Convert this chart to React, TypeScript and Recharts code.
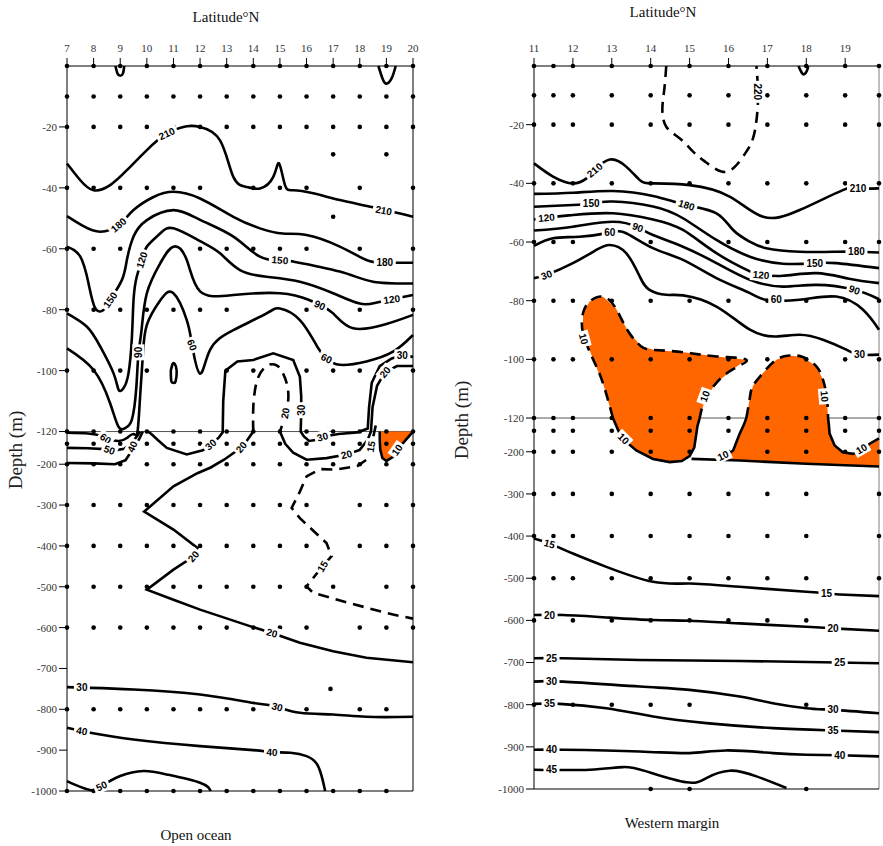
import { ScatterChart, Scatter, XAxis, YAxis, ReferenceLine } from "recharts";

type Pt = [number, number];
type Lbl = [number, number, string, number];
type Contour = { pts: Pt[]; dash?: boolean; curve?: string };

// depth ticks shared by both panels (broken axis at -120 m)
const depthTicks = [-20, -40, -60, -80, -100, -120, -200, -300, -400, -500, -600, -700, -800, -900, -1000];

// ---------- Open ocean ----------
const leftLatTicks = [7, 8, 9, 10, 11, 12, 13, 14, 15, 16, 17, 18, 19, 20];
const allL = leftLatTicks;
const leftDotRows: [number, number[]][] = [
  [0, allL], [-10, allL], [-20, allL], [-29, [17, 19]],
  [-40, [7, 8, 9, 10, 11, 12, 14, 15, 16, 18, 20]], [-49.5, [17]],
  [-60, [7, 8, 9, 12, 13, 14, 15, 16, 18, 20]],
  [-80, [7, 8, 9, 10, 11, 12, 13, 16, 18, 20]],
  [-100, [7, 8, 9, 10, 13, 14, 16, 17, 18, 20]],
  [-120, allL], [-150, allL], [-200, allL],
  [-300, [7, 8, 9, 10, 11, 12, 13, 14, 15, 16, 18, 19, 20]],
  [-400, [7, 8, 9, 10, 11, 12, 13, 14, 15, 16, 18, 19, 20]],
  [-500, [7, 8, 9, 10, 11, 12, 13, 14, 15, 16, 17, 19, 20]],
  [-600, [7, 8, 9, 10, 11, 12, 13, 14, 15, 16, 18, 19, 20]],
  [-750, [16.9]],
  [-800, [7, 8, 9, 10, 11, 12, 13, 14, 15, 16, 18, 19]],
  [-1000, [7, 8, 9, 10, 11, 12, 13, 14, 15, 16, 17, 18, 19]],
];

const leftFills: Pt[][] = [
  [[18.75, -120], [20, -120], [19.6, -150], [19.3, -180], [19.0, -192], [18.85, -185], [18.77, -165], [18.75, -140]],
];

const leftLines: Contour[] = [
  { pts: [[8.82, 0], [8.9, -2.5], [9.0, -3.2], [9.1, -2.5], [9.15, 0]] },
  { pts: [[18.7, 0], [18.85, -4], [19.0, -5.8], [19.2, -4], [19.35, 0]] },
  { pts: [[7, -32], [7.5, -37.5], [8, -40.8], [8.62, -39.1], [9.25, -34.2], [10, -27.6], [10.75, -22.2], [11.5, -19.8], [12, -20], [12.75, -24.4], [13.25, -36.4], [13.75, -39.7], [14.25, -40.2], [14.75, -36.4], [14.97, -32], [15.19, -39.1], [15.5, -40.8], [16.25, -41.8], [17.25, -44], [18.5, -46.4], [20, -49.5]] },
  { pts: [[7, -49.3], [7.6, -52.5], [8.25, -54.4], [8.94, -52.2], [9.5, -47.3], [10.25, -43], [11, -41.3], [12, -43.5], [13.25, -49.5], [14.25, -53.3], [15.1, -55], [16, -55.5], [17.25, -59.3], [18.25, -63.7], [18.94, -64.6], [20, -64.6]] },
  { pts: [[7, -59.3], [7.5, -62.6], [7.81, -71.4], [8.06, -79.5], [8.37, -80.1], [8.62, -76.8], [9.06, -70.3], [9.25, -63.7], [9.5, -56], [10, -50.6], [11, -47.3], [12, -50.5], [13.25, -56], [14.25, -62.6], [15, -63.7], [15.5, -64.2], [17.25, -67.5], [18.5, -70.8], [20, -71.4]] },
  { pts: [[7, -81.2], [7.75, -85.6], [8.25, -92.1], [8.75, -100.9], [8.94, -106.3], [9.12, -105.8], [9.31, -100.9], [9.44, -88.8], [9.5, -76.8], [9.62, -69.2], [9.81, -63.7], [10, -59.3], [10.5, -55], [11, -53.3], [12, -57.5], [12.75, -61.5], [13.5, -67], [14.5, -69.2], [15.75, -70.8], [17, -74.6], [18, -78], [18.6, -77.7], [19.2, -76.6], [20, -75.2]] },
  { pts: [[7, -92.7], [8, -99.8], [8.62, -110.7], [8.94, -118.5], [9.2, -118.8], [9.44, -116], [9.6, -106], [9.68, -95], [9.8, -86.7], [10, -74.6], [10.5, -64.8], [11, -59.3], [11.5, -63.7], [12, -74], [13.25, -75.2], [15, -74.6], [16.1, -76.8], [16.5, -78.5], [17, -81.2], [17.75, -86.1], [19, -84.7], [20, -81.7]] },
  { pts: [[7, -123], [7.8, -125], [8.3, -131], [8.6, -139], [8.95, -143], [9.25, -136], [9.5, -126], [9.65, -120], [9.75, -108], [9.85, -95], [10.0, -85], [10.5, -77], [11, -74.6], [11.5, -83.4], [11.7, -91.6], [12, -101], [12.375, -93.2], [13.25, -86.7], [14.5, -81.2], [15, -79.6], [15.75, -83.4], [16.4, -92.1], [16.75, -96], [17.25, -98.1], [18.25, -97], [19.25, -93.8], [20, -88.3]] },
  { pts: [[10.9, -100], [10.97, -97.8], [11.05, -97.8], [11.12, -100], [11.08, -103.5], [11.0, -104], [10.92, -103.5], [10.9, -100]] },
  { pts: [[7, -160], [7.8, -161], [8.4, -163], [8.8, -166], [9.15, -162], [9.45, -147], [9.65, -130], [9.75, -120]], curve: "linear" },
  { pts: [[7, -197], [8, -198], [8.8, -200], [9.2, -190], [9.45, -165], [9.7, -140], [9.85, -120]], curve: "linear" },
  { pts: [[10.05, -120], [10.2, -128], [10.4, -140], [10.75, -160], [11.5, -176], [12.1, -166], [12.4, -152], [12.7, -135], [12.85, -122], [12.87, -110], [12.95, -100], [13.4, -97], [14, -96.5], [14.75, -94.3], [15.5, -96.5], [15.75, -102], [15.8, -108.5], [15.8, -114], [15.78, -120], [15.9, -132], [16.1, -143], [16.4, -140], [16.6, -133], [17.2, -126], [17.9, -122], [18.3, -119], [18.35, -112], [18.45, -104], [18.75, -98.5], [19.2, -96], [19.6, -95], [20, -95.5]], curve: "linear" },
  { pts: [[14.0, -120], [14.0, -112], [14.15, -103], [14.5, -98.5], [14.8, -98], [15.06, -100], [15.3, -106], [15.25, -113], [15.0, -120]], dash: true },
  { pts: [[15.0, -120], [15.2, -150], [15.5, -172], [16, -189], [16.75, -185], [17.5, -176], [18, -165], [18.3, -140], [18.42, -120], [18.48, -112], [18.65, -105], [18.95, -100.5], [19.4, -98.5], [20, -98.5]], curve: "linear" },
  { pts: [[14.0, -120], [13.6, -157], [12.9, -189], [12.4, -208], [11.9, -222], [11.0, -254], [9.9, -316], [11.0, -360], [11.9, -405], [11.75, -426], [11.0, -458], [10.0, -507], [11.0, -532], [12, -556], [13.9, -597], [14.7, -613], [15.75, -637], [17, -658], [18.25, -674], [20, -685]], curve: "linear" },
  { pts: [[18.6, -118], [18.45, -150], [18.25, -189], [17.9, -205], [17.1, -213], [16.5, -212], [16, -230], [15.75, -267], [15.44, -307], [15.75, -332], [16.75, -393], [16.94, -425], [16.6, -450], [16, -499], [16.25, -515], [17.6, -540], [19.25, -568], [20, -578]], dash: true, curve: "linear" },
  { pts: [[18.75, -120], [18.75, -140], [18.77, -165], [18.85, -185], [19.0, -192], [19.3, -180], [19.6, -150], [20, -120]], curve: "linear" },
  { pts: [[7, -745.8], [7.875, -747.5], [9.5, -751.5], [12, -763.8], [14, -784.2], [14.9, -794], [15.75, -808.6], [17, -812.7], [18.25, -818.4], [20, -818.4]] },
  { pts: [[7, -845.3], [7.875, -857.5], [9.5, -873.8], [12, -890.1], [14, -899.9], [14.7, -904.8], [15.4, -906.4], [16, -914.6], [16.4, -935], [16.6, -971.6], [16.7, -1000]] },
  { pts: [[7, -975.7], [7.5, -990], [7.94, -998], [8.3, -988], [9, -963.4], [9.875, -951.2], [10.75, -959.4], [12, -979.7], [12.4, -1000]] },
];

const leftLabels: Lbl[] = [
  [10.75, -22.2, "210", -25], [18.9, -47.4, "210", 10], [8.94, -52.2, "180", -40], [18.94, -64.6, "180", 0],
  [8.62, -76.8, "150", -55], [15, -63.7, "150", 5], [9.81, -63.7, "120", -72], [19.2, -76.6, "120", -8],
  [9.68, -94, "90", -90], [16.5, -78.5, "90", 25], [11.7, -91.6, "60", 70], [16.75, -96, "60", 25],
  [15.8, -113, "30", -90], [15.2, -114, "20", -80], [18.95, -100.5, "20", -50], [19.6, -95, "30", 0],
  [8.45, -137, "60", 35], [8.6, -165, "50", 20], [9.45, -157, "40", -65], [12.4, -152, "30", -40],
  [13.55, -158, "20", -50], [16.6, -133, "30", -15], [17.5, -176, "20", -15], [18.42, -157, "15", -80],
  [19.4, -165, "10", -55], [11.75, -426, "20", -50], [16.6, -450, "15", -60], [14.7, -613, "20", 15],
  [7.56, -746, "30", 0], [14.9, -794, "30", 15], [7.56, -853, "40", 10], [14.7, -905, "40", 3], [8.3, -988, "50", -25],
];

// ---------- Western margin ----------
const rightLatTicks = [11, 12, 13, 14, 15, 16, 17, 18, 19];
const allR = [11, 11.5, 12, 13, 14, 15, 16, 17, 18, 19, 19.87];
const rightDotRows: [number, number[]][] = [
  [0, allR], [-10, allR], [-20, allR], [-40, allR],
  [-60, [11, 11.5, 12, 14, 16, 17, 18, 19, 19.87]],
  [-80, allR], [-100, allR], [-120, allR], [-150, allR], [-200, allR],
  [-300, [11, 11.5, 12, 13, 14, 15, 16, 17, 18, 19.87]],
  [-400, [11, 11.5, 12, 13, 14, 15, 16, 17, 18, 19.87]],
  [-500, [11, 11.5, 12, 13, 14, 15, 16, 17, 18, 19.87]],
  [-600, [11, 12, 13, 14, 15, 16, 17, 18]],
  [-800, [11, 12, 13, 14, 15, 18]],
  [-1000, [14, 15, 18]],
];

const rightFills: Pt[][] = [
  [[12.77, -78.6], [13.1, -82.5], [13.4, -90], [13.75, -95.5], [14.1, -96.8], [14.85, -97.6], [15.7, -99], [16.46, -100.1], [16.1, -103.5], [15.69, -108], [15.4, -113.5], [15.26, -120], [15.2, -140], [15.17, -160], [15.12, -190], [15.0, -210], [14.8, -222], [14.49, -224.5], [14.06, -217], [13.63, -197], [13.35, -175], [13.2, -157], [13.03, -120], [12.77, -108], [12.52, -100], [12.26, -91], [12.26, -84.2], [12.43, -80.3]],
  [[17.57, -98.7], [17.91, -99.2], [18.26, -102.4], [18.43, -106.9], [18.53, -113], [18.56, -120], [18.58, -135], [18.6, -157], [18.73, -185], [18.94, -201], [19.2, -205], [19.45, -195], [19.63, -181], [19.87, -168], [19.87, -236], [19, -232], [18, -228.5], [17, -224], [16.29, -220.6], [15.75, -218], [15.95, -208], [16.12, -197], [16.29, -157], [16.4, -135], [16.46, -120], [16.55, -113], [16.63, -109], [16.89, -104.6], [17.23, -100.1]],
];

const rightLines: Contour[] = [
  { pts: [[14.4, 0], [14.35, -8], [14.3, -14.5], [14.4, -20.7], [14.75, -24.7], [15.09, -29.2], [15.4, -32.6], [15.82, -36], [16.16, -34.4], [16.46, -29.2], [16.63, -24.7], [16.72, -18.5], [16.76, -10], [16.72, 0]], dash: true },
  { pts: [[17.8, 0], [17.88, -2.2], [17.95, -2.8], [18.02, -1.5], [18.05, 0]] },
  { pts: [[11, -33.2], [11.49, -37.7], [12, -40], [12.35, -38.3], [12.56, -35.5], [12.95, -31.9], [13.37, -34.3], [13.72, -38.9], [14.06, -40], [15, -40.6], [16.03, -44.5], [16.89, -51.4], [17.83, -49.1], [18.94, -42.3], [19.33, -41.7], [19.87, -41.7]] },
  { pts: [[11, -43.6], [12, -43.2], [13.03, -42.6], [14.06, -44.3], [14.92, -47.4], [15.69, -50.2], [16.12, -55.9], [16.55, -59.9], [16.97, -62.1], [17.83, -63.3], [18.77, -63.3], [19.29, -63.3], [19.87, -63.6]] },
  { pts: [[11, -48], [12, -47.4], [12.47, -46.8], [13.03, -46.2], [14.06, -47.9], [14.83, -51.9], [15.69, -59.3], [16.55, -65], [17.4, -67.4], [18.22, -67.2], [18.77, -67.2], [19.87, -68.9]] },
  { pts: [[11, -52.3], [11.32, -51.7], [12, -50.8], [13.03, -50.2], [14.06, -52.3], [14.83, -55.9], [15.69, -63.8], [16.55, -70], [16.84, -71.2], [17.4, -71.5], [18.26, -70.6], [19.1, -72.5], [19.87, -74]] },
  { pts: [[11, -56.1], [12, -54.8], [13.03, -53.1], [13.67, -55], [14.06, -57.6], [14.83, -61.6], [15.69, -67.2], [16.55, -72.9], [17.4, -75.2], [18.26, -74.6], [19.24, -76.3], [19.87, -79.5]] },
  { pts: [[11, -61.3], [11.49, -58.7], [12.17, -58.2], [12.95, -56.8], [13.37, -57], [14.06, -62.1], [14.83, -66.1], [15.69, -72.3], [16.55, -77.4], [16.97, -79.7], [17.83, -79.7], [18.77, -78.6], [19.46, -83.1], [19.87, -89.9]] },
  { pts: [[11, -72.3], [11.32, -71.2], [12, -67.2], [12.6, -62.7], [12.95, -61], [13.37, -63.8], [13.72, -71.8], [13.97, -76.3], [14.4, -78], [14.83, -78.2], [15.69, -82], [16.55, -89.9], [17.23, -92.2], [17.83, -91.6], [18.43, -93.3], [19.03, -96.7], [19.37, -98.4], [19.87, -98.4]] },
  // orange patch outlines (10)
  { pts: [[13.03, -120], [12.77, -108], [12.52, -100], [12.26, -91], [12.26, -84.2], [12.43, -80.3], [12.77, -78.6], [13.1, -82.5], [13.4, -90], [13.75, -95.5], [14.1, -96.8], [14.85, -97.6], [15.7, -99], [16.46, -100.1], [16.1, -103.5], [15.69, -108], [15.4, -113.5], [15.26, -120]], dash: true },
  { pts: [[13.03, -120], [13.2, -157], [13.35, -175], [13.63, -197], [14.06, -217], [14.49, -224.5], [14.8, -222], [15.0, -210], [15.12, -190], [15.17, -160], [15.2, -140], [15.26, -120]], curve: "linear" },
  { pts: [[16.46, -120], [16.55, -113], [16.63, -109], [16.89, -104.6], [17.23, -100.1], [17.57, -98.7], [17.91, -99.2], [18.26, -102.4], [18.43, -106.9], [18.53, -113], [18.56, -120]], dash: true },
  { pts: [[16.46, -120], [16.4, -135], [16.29, -157], [16.12, -197], [15.95, -208], [15.75, -216]], curve: "linear" },
  { pts: [[18.56, -120], [18.58, -135], [18.6, -157], [18.73, -185], [18.94, -201], [19.2, -205], [19.45, -195], [19.63, -181], [19.87, -168]], curve: "linear" },
  { pts: [[15.05, -217], [16.29, -220.6], [17, -224], [18, -228.5], [19, -232], [19.87, -235]], curve: "linear" },
  // deep water
  { pts: [[11, -406], [11.4, -418], [12, -441.5], [12.86, -473], [14.06, -508.6], [15, -512.5], [16.29, -520.4], [18, -532.2], [18.52, -536], [18.86, -538.6], [19.87, -542.5]] },
  { pts: [[11, -587.4], [11.75, -587.4], [12.86, -593], [14.06, -599.2], [15, -600.8], [16.29, -607.1], [18, -615], [18.69, -619], [19.87, -624.5]] },
  { pts: [[11, -690], [11.75, -690], [13.72, -693.9], [16.29, -696.3], [18.43, -699.4], [19.87, -701.8]] },
  { pts: [[11, -745.2], [11.75, -745.2], [13.72, -757], [15, -764.9], [16.29, -780.7], [17.14, -796.5], [18, -808.3], [18.69, -812.3], [19.87, -820.2]] },
  { pts: [[11, -798], [11.66, -798], [12.86, -808.3], [14.06, -828], [15.43, -843.8], [17.14, -855.7], [18.69, -861.2], [19.87, -865.1]] },
  { pts: [[11, -906.9], [11.75, -906.9], [13.72, -910.9], [15, -914.8], [15.94, -908.5], [17.14, -914.8], [18, -918.8], [18.86, -920], [19.87, -922.7]] },
  { pts: [[11, -954.3], [12.43, -954.3], [13.29, -948], [13.89, -958.2], [14.92, -984.2], [15.43, -974], [16.03, -956.6], [16.72, -970], [17.49, -997.6]] },
];

const rightLabels: Lbl[] = [
  [16.76, -8.8, "220", 90], [12.56, -35.5, "210", -40], [19.33, -41.7, "210", 0], [14.92, -47.4, "180", 18],
  [19.29, -63.3, "180", 0], [12.47, -46.8, "150", 0], [18.22, -67.2, "150", 0], [11.32, -51.7, "120", -5],
  [16.84, -71.2, "120", 5], [13.67, -55, "90", 20], [19.24, -76.3, "90", 20], [12.95, -56.8, "60", 0],
  [17.23, -79.7, "60", 0], [11.32, -71.2, "30", -20], [19.37, -98.4, "30", 0],
  [12.28, -93, "10", 75], [15.39, -112.6, "10", -70], [18.47, -112.6, "10", 85], [13.3, -169, "10", 45],
  [15.86, -209, "10", -25], [19.42, -193, "10", -30],
  [11.4, -418, "15", 15], [18.52, -536, "15", 0], [11.4, -587.4, "20", 0], [18.69, -619, "20", 0],
  [11.45, -690, "25", 0], [18.86, -700, "25", 0], [11.45, -745, "30", 0], [18.69, -812, "30", 0],
  [11.4, -798, "35", 0], [18.69, -861, "35", 0], [11.45, -907, "40", 0], [18.86, -920, "40", 0], [11.45, -954, "45", 0],
];

const tickStyle = { fill: "#333", fontSize: 11, fontFamily: "Liberation Serif, serif" };

const NoShape = () => <g />;
const DotShape = (p: any) => <circle cx={p.cx} cy={p.cy} r={2.3} fill="#000" />;
const LabelShape = (p: any) => {
  const { cx, cy, payload } = p;
  const w = payload.t.length * 6 + 4;
  return (
    <g transform={`translate(${cx},${cy}) rotate(${payload.a})`}>
      <rect x={-w / 2} y={-6} width={w} height={12} fill="#fff" />
      <text x={0} y={0} dy="0.36em" textAnchor="middle" fontSize={10} fontWeight="bold"
        fontFamily="Liberation Sans, Arial, sans-serif" fill="#000">{payload.t}</text>
    </g>
  );
};

function Panel(props: any) {
  const { width, height, margin, xDomain, xTicks, k, fills, lines, dotRows, labels, edge } = props;
  const ty = (d: number) => (d >= -120 ? d : -120 + (d + 120) * k);
  const inv = (t: number) => (t >= -120 ? t : -120 + (t + 120) / k);
  const toXY = (pts: Pt[]) => pts.map(([x, d]) => ({ x, y: ty(d) }));
  const dots = (dotRows as [number, number[]][]).flatMap(([d, lats]) => lats.map((x) => ({ x, y: ty(d) })));
  const lbls = (labels as Lbl[]).map(([x, d, t, a]) => ({ x, y: ty(d), t, a }));
  return (
    <ScatterChart width={width} height={height} margin={margin}>
      <XAxis type="number" dataKey="x" orientation="top" domain={xDomain} ticks={xTicks} interval={0}
        height={30} tickSize={8} tickMargin={6} stroke="#000" tick={tickStyle} />
      <YAxis type="number" dataKey="y" domain={[ty(-1000), 0]} ticks={depthTicks.map(ty)} interval={0}
        width={60} tickSize={8} tickMargin={2} stroke="#000" tick={tickStyle}
        tickFormatter={(v: number) => String(Math.round(inv(v)))} />
      <ReferenceLine x={xDomain[1]} stroke={edge} />
      <ReferenceLine y={ty(-1000)} stroke="#000" />
      {(fills as Pt[][]).map((f, i) => (
        <Scatter key={"f" + i} data={toXY(f)} shape={NoShape} isAnimationActive={false}
          line={{ fill: "#ff6600", stroke: "none" }} lineJointType="linearClosed" />
      ))}
      <ReferenceLine y={ty(-120)} stroke="#555" />
      {(lines as Contour[]).map((c, i) => (
        <Scatter key={"c" + i} data={toXY(c.pts)} shape={NoShape} isAnimationActive={false}
          line={{ stroke: "#000", strokeWidth: 2.6, fill: "none", strokeDasharray: c.dash ? "11 7" : undefined }}
          lineJointType={(c.curve || "natural") as any} />
      ))}
      <Scatter data={dots} shape={DotShape} isAnimationActive={false} />
      <Scatter data={lbls} shape={LabelShape} isAnimationActive={false} />
    </ScatterChart>
  );
}

const txt = (left: number, top: number, w: number, s: string, size = 15) => (
  <div style={{ position: "absolute", left, top, width: w, textAlign: "center", fontSize: size, fontFamily: "Liberation Serif, serif", color: "#111", lineHeight: "18px" }}>{s}</div>
);

const vtxt = (cx: number, cy: number, s: string) => (
  <div style={{ position: "absolute", left: cx - 50, top: cy - 11, width: 100, height: 22, textAlign: "center", fontSize: 19, lineHeight: "22px", fontFamily: "Liberation Serif, serif", color: "#222", transform: "rotate(-90deg)" }}>{s}</div>
);

export default function App() {
  return (
    <div style={{ position: "absolute", left: 0, top: 0, width: 883, height: 846, background: "#fff", overflow: "hidden" }}>
      <div style={{ position: "absolute", left: 0, top: 0 }}>
        <Panel width={440} height={846} margin={{ top: 36, right: 27, bottom: 55, left: 7 }}
          xDomain={[7, 20]} xTicks={leftLatTicks} k={0.1341} fills={leftFills} lines={leftLines}
          dotRows={leftDotRows} labels={leftLabels} edge="#000" />
      </div>
      <div style={{ position: "absolute", left: 440, top: 0 }}>
        <Panel width={443} height={846} margin={{ top: 36, right: 4, bottom: 57, left: 34 }}
          xDomain={[11, 19.87]} xTicks={rightLatTicks} k={0.1437} fills={rightFills} lines={rightLines}
          dotRows={rightDotRows} labels={rightLabels} edge="#8a7a76" />
      </div>
      {txt(126, 8, 200, "Latitude°N")}
      {txt(563, 3, 200, "Latitude°N")}
      {txt(96, 826, 200, "Open ocean")}
      {txt(572, 814, 200, "Western margin")}
      {vtxt(16, 450, "Depth (m)")}
      {vtxt(462, 420, "Depth (m)")}
    </div>
  );
}
